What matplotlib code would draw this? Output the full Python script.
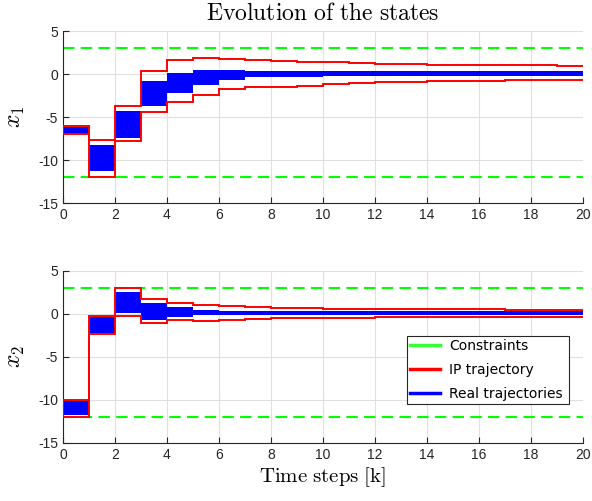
import numpy as np
import matplotlib
matplotlib.use("Agg")
import matplotlib.pyplot as plt
from matplotlib.lines import Line2D

plt.rcParams['mathtext.fontset'] = 'cm'

# time steps (edges of the stairs)
k_edges = np.arange(0, 21)

# x1 : IP trajectory bounds (one value per step k=0..19)
x1_ip_up = [-6.0, -7.7, -3.7, 0.4, 1.6, 1.9, 1.8, 1.65, 1.5, 1.4,
            1.35, 1.25, 1.2, 1.15, 1.1, 1.05, 1.05, 1.0, 1.0, 0.95]
x1_ip_lo = [-7.0, -12.0, -7.8, -4.45, -3.2, -2.4, -1.8, -1.55, -1.5, -1.35,
            -1.15, -1.0, -0.95, -0.9, -0.85, -0.8, -0.8, -0.75, -0.7, -0.7]
# x1 : envelope of the real trajectories
x1_real_up = [-6.2, -8.2, -4.3, -0.8, 0.15, 0.45, 0.45, 0.4, 0.4, 0.4,
              0.4, 0.4, 0.4, 0.4, 0.4, 0.4, 0.4, 0.4, 0.4, 0.4]
x1_real_lo = [-7.0, -11.3, -7.4, -3.7, -2.25, -1.3, -0.7, -0.4, -0.3, -0.3,
              -0.25, -0.25, -0.25, -0.25, -0.25, -0.25, -0.25, -0.25, -0.25, -0.25]

# x2 : IP trajectory bounds
x2_ip_up = [-10.0, -0.27, 3.0, 1.67, 1.28, 0.97, 0.9, 0.75, 0.7, 0.65,
            0.6, 0.6, 0.55, 0.55, 0.5, 0.5, 0.5, 0.45, 0.45, 0.45]
x2_ip_lo = [-12.0, -2.4, -0.27, -1.05, -0.75, -0.8, -0.75, -0.6, -0.55, -0.5,
            -0.45, -0.45, -0.4, -0.4, -0.4, -0.35, -0.35, -0.35, -0.35, -0.35]
# x2 : envelope of the real trajectories
x2_real_up = [-10.15, -0.4, 2.55, 1.2, 0.75, 0.45, 0.35, 0.35, 0.35, 0.35,
              0.35, 0.35, 0.35, 0.35, 0.35, 0.35, 0.35, 0.35, 0.35, 0.35]
x2_real_lo = [-11.8, -2.3, 0.1, -0.75, -0.35, -0.2, -0.2, -0.2, -0.2, -0.2,
              -0.2, -0.2, -0.2, -0.2, -0.2, -0.2, -0.2, -0.2, -0.2, -0.2]

x_max = 3
x_min = -12

yticks = [5, 0, -5, -10, -15]
ytick_labels = ["5", "0", "-5", "-10", "-15"]
xticks = np.arange(0, 21, 2)

legend_names = ["Constraints", "IP trajectory", "Real trajectories"]


def stair_plot(ax, real_up, real_lo, ip_up, ip_lo, ylab):
    ru = np.append(real_up, real_up[-1])
    rl = np.append(real_lo, real_lo[-1])
    ax.fill_between(k_edges, rl, ru, step='post', color='#0000ff',
                    linewidth=0, zorder=3)
    ax.stairs(ip_up, k_edges, color='#ff0000', lw=1.4, baseline=None, zorder=4)
    ax.stairs(ip_lo, k_edges, color='#ff0000', lw=1.4, baseline=None, zorder=4)
    ax.plot([0, 0], [ip_lo[0], ip_up[0]], color='#ff0000', lw=1.4, zorder=4)
    ax.axhline(x_max, color='#00ff00', lw=1.5, dashes=(5.5, 3), zorder=2)
    ax.axhline(x_min, color='#00ff00', lw=1.5, dashes=(5.5, 3), zorder=2)

    ax.set_xlim(0, 20)
    ax.set_ylim(-15, 5)
    ax.set_xticks(xticks)
    ax.set_yticks(yticks)
    ax.set_yticklabels(ytick_labels)
    ax.grid(True, color='#e0e0e0', lw=0.8)
    ax.set_axisbelow(True)
    for s in ['top', 'right']:
        ax.spines[s].set_visible(False)
    for s in ['left', 'bottom']:
        ax.spines[s].set_color('#262626')
        ax.spines[s].set_linewidth(0.8)
    ax.tick_params(direction='in', length=4, color='#262626',
                   labelcolor='#262626', labelsize=10)
    for lab in ax.get_xticklabels() + ax.get_yticklabels():
        lab.set_family('Liberation Sans')
    ax.set_ylabel(ylab, fontsize=17, labelpad=8)


fig = plt.figure(figsize=(5.92, 5.01), dpi=100)
ax1 = fig.add_axes([0.1064, 0.5948, 0.8784, 0.3433])
ax2 = fig.add_axes([0.1064, 0.1164, 0.8784, 0.3433])

stair_plot(ax1, x1_real_up, x1_real_lo, x1_ip_up, x1_ip_lo, r'$x_1$')
stair_plot(ax2, x2_real_up, x2_real_lo, x2_ip_up, x2_ip_lo, r'$x_2$')

ax1.set_title(r'$\mathrm{Evolution\ of\ the\ states}$', fontsize=17, pad=8)
ax2.set_xlabel(r'$\mathrm{Time\ steps\ [k]}$', fontsize=15, labelpad=3)

handles = [Line2D([], [], color='#33ff33', lw=2.5),
           Line2D([], [], color='#ff0000', lw=2.5),
           Line2D([], [], color='#0000ff', lw=2.5)]
leg = ax2.legend(handles, legend_names, loc='lower left',
                 bbox_to_anchor=(0.6615, 0.225, 0.3115, 0.39), mode='expand',
                 fancybox=False, framealpha=1, edgecolor='#262626',
                 prop={'family': 'DejaVu Sans', 'size': 10},
                 handlelength=2.15, handletextpad=0.65, borderpad=0.25,
                 borderaxespad=0, labelspacing=0.7)
leg.get_frame().set_linewidth(0.8)

fig.savefig('out.png', dpi=100)
